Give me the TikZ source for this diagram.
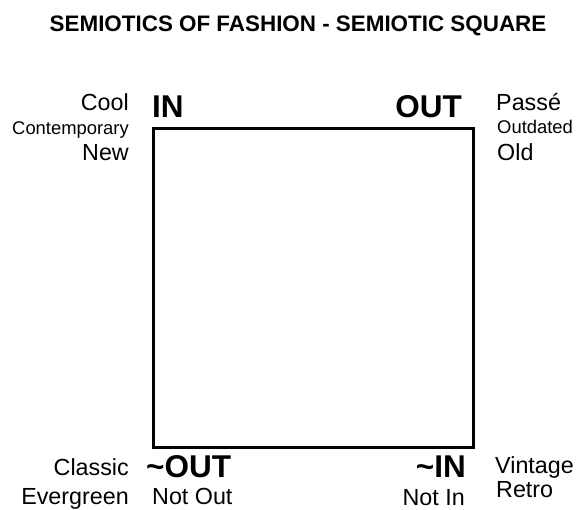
\documentclass[tikz,border=0pt]{standalone}
\usepackage{fontspec}
\setmainfont{Liberation Sans}
\usepackage{xcolor}
\usetikzlibrary{positioning}

\begin{document}
\begin{tikzpicture}[x=1pt, y=-1pt]
      \tikzstyle{term} = [inner sep=0pt, font=\fontsize{31.5}{31.5}\selectfont\bfseries]
      \tikzstyle{word} = [inner sep=0pt, font=\fontsize{23.3}{23.3}\selectfont]
      \tikzstyle{small} = [inner sep=0pt, font=\fontsize{18.4}{18.4}\selectfont]
      \tikzstyle{frame} = [draw, line width=3pt, minimum width=320pt, minimum height=318.5pt, inner sep=0pt]
      \useasboundingbox (0,0) rectangle (577,510);
      \node[inner sep=0pt, anchor=base, font=\fontsize{22.4}{22.4}\selectfont\bfseries] (title) at (298,32) {SEMIOTICS OF FASHION - SEMIOTIC SQUARE};
      \node[frame] (sq) at (313,288.25) {};
      % corner terms
      \node[term, anchor=base west] (in) at (152,118) {IN};
      \node[term, anchor=base east] (out) at (462,118) {OUT};
      \node[term, anchor=base west] (notout) at (146,477) {\char`\~OUT};
      \node[term, anchor=base east] (notin) at (466,477) {\char`\~IN};
      % left labels
      \node[word, anchor=base east] (cool) at (129,111) {Cool};
      \node[small, anchor=base east] (contemp) at (129,135) {Contemporary};
      \node[word, anchor=base east] (new) at (129,161) {New};
      \node[word, anchor=base east] (classic) at (129,475) {Classic};
      \node[word, anchor=base east] (evergreen) at (129,504) {Evergreen};
      % right labels
      \node[word, anchor=base west] (passe) at (496,111) {Passé};
      \node[small, anchor=base west] (outdated) at (497,134) {Outdated};
      \node[word, anchor=base west] (old) at (497,161) {Old};
      \node[word, anchor=base west] (vintage) at (495,473) {Vintage};
      \node[word, anchor=base west] (retro) at (496,497) {Retro};
      % under the negations
      \node[word, anchor=base west] (notoutlbl) at (152,504) {Not Out};
      \node[word, anchor=base east] (notinlbl) at (465,505) {Not In};
    \end{tikzpicture}
\end{document}
